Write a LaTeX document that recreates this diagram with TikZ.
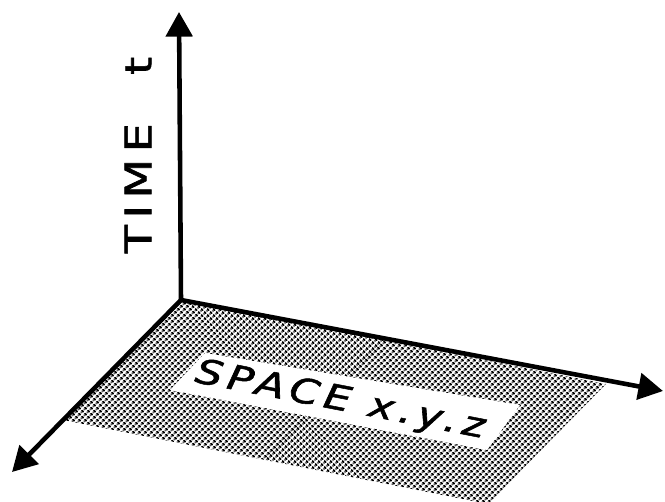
\documentclass[tikz,border=0pt]{standalone}
\usepackage{fontspec}
\setmainfont{DejaVu Sans}
\usetikzlibrary{arrows.meta,patterns.meta}

\tikzdeclarepattern{
  name=halftone,
  type=uncolored,
  bounding box={(0pt,0pt) and (2.3pt,2.3pt)},
  tile size={(2.3pt,2.3pt)},
  tile transformation={rotate=45},
  code={\fill (1.15pt,1.15pt) circle (0.9pt);}
}

\begin{document}
\begin{tikzpicture}[x=0.02cm, y=-0.02cm,
    axis/.style={line width=2.6pt, -{Triangle[length=14pt,width=15pt]}},
    plane/.style={pattern=halftone, pattern color=black},
    tagfield/.style={fill=white},
    timetext/.style={font=\fontsize{21pt}{24pt}\selectfont\addfontfeature{LetterSpace=14,FakeBold=1.5}, inner sep=0pt, xscale=1.25},
    spacetext/.style={font=\fontsize{19.5pt}{22pt}\selectfont\itshape\addfontfeature{LetterSpace=12,FakeBold=1.5}, inner sep=0pt, xscale=1.25}]

    \useasboundingbox (0,0) rectangle (665,502);

    % Axis end points
    \coordinate (origin) at (181,300);
    \coordinate (tend) at (179,12);
    \coordinate (xend) at (663,391);
    \coordinate (zend) at (12,472);

    % Space plane
    \coordinate (pright) at (606,384);
    \coordinate (pfar) at (488,504);
    \coordinate (pleft) at (63,420);
    \fill[plane] (origin) -- (pright) -- (pfar) -- (pleft) -- cycle;

    % Label field on the plane
    \fill[tagfield] (205,353) -- (520,405) -- (487,450) -- (170,390) -- cycle;
    \node[rotate=-11, spacetext] (space) at (340,401) {SPACE x.y.z};

    % Axes
    \draw[axis] (origin) -- (tend);
    \draw[axis] (origin) -- (xend);
    \draw[axis] (origin) -- (zend);

    % Time label
    \node[rotate=90, timetext] (time) at (138,155) {TIME\hspace{22pt}t};
\end{tikzpicture}
\end{document}
